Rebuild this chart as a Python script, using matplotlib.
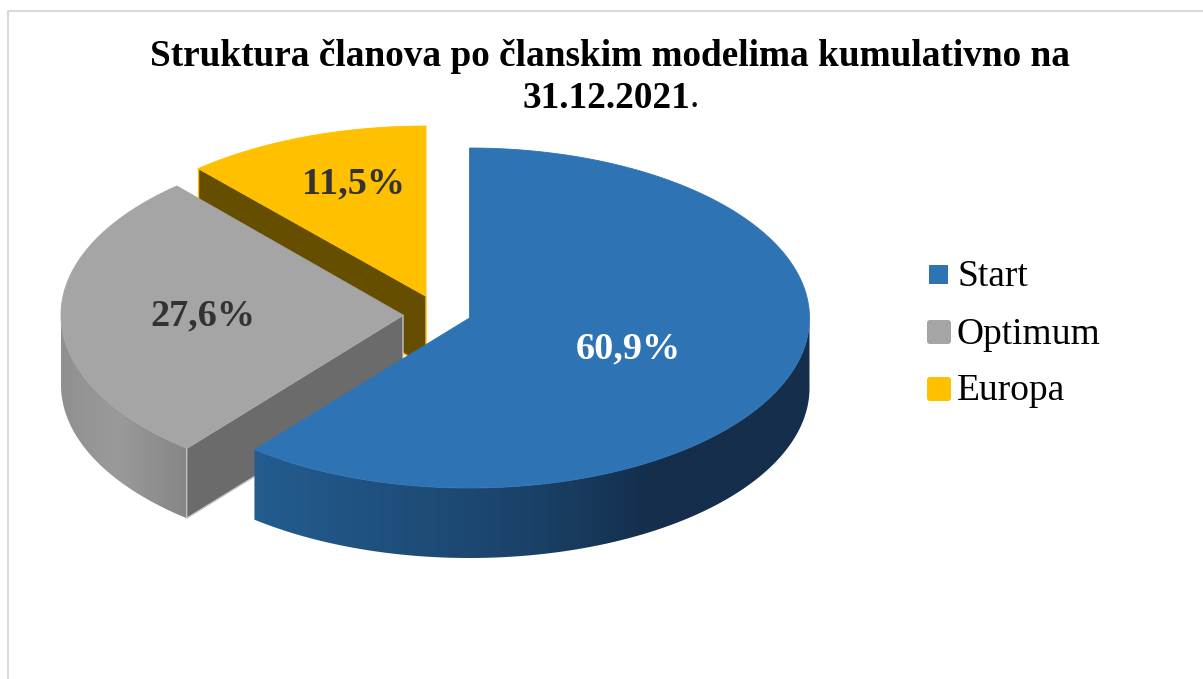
import numpy as np
import matplotlib
matplotlib.use("Agg")
import matplotlib.pyplot as plt
from matplotlib.patches import Polygon, Rectangle, FancyBboxPatch
from matplotlib.colors import LinearSegmentedColormap

# Data
categories = ["Start", "Optimum", "Europa"]
shares = [60.9, 27.6, 11.5]
value_labels = ["60,9%", "27,6%", "11,5%"]
title_line1 = "Struktura članova po članskim modelima kumulativno na"
title_line2 = "31.12.2021"

# Style and layout
top_colors = ["#2e74b5", "#a5a5a5", "#ffc000"]
cut_colors = [None, "#6b6b6b", "#654e00"]
label_colors = ["white", "#333333", "#333333"]
centers = [(469.5, 318), (403, 315), (426, 296)]
radii = [(340, 170), (342, 172), (344, 170)]
label_pos = [(628, 349), (202.5, 316), (353.5, 184)]
DEPTH = 70
SERIF = "Liberation Serif"

fig = plt.figure(figsize=(12.03, 6.79), dpi=100, facecolor="white")
ax = fig.add_axes([0, 0, 1, 1])
ax.set_xlim(0, 1203)
ax.set_ylim(679, 0)
ax.axis("off")

ax.plot([1203, 7.5, 7.5], [10.5, 10.5, 679], color="#d9d9d9", lw=1.5, zorder=1)


def arc(i, t0, t1, dy=0, n=240):
    c, (rx, ry) = centers[i], radii[i]
    t = np.radians(np.linspace(t0, t1, n))
    return np.column_stack([c[0] + rx * np.sin(t), c[1] - ry * np.cos(t) + dy])


def gradient_wall(i, t0, t1, stops, z):
    top = arc(i, t0, t1)
    bottom = arc(i, t0, t1, DEPTH)
    poly = np.vstack([top, bottom[::-1]])
    clip = Polygon(poly, closed=True, transform=ax.transData, fc="none", ec="none")
    ax.add_patch(clip)
    x0, x1 = poly[:, 0].min(), poly[:, 0].max()
    y0, y1 = poly[:, 1].min(), poly[:, 1].max()
    cmap = LinearSegmentedColormap.from_list("w", stops)
    img = ax.imshow(np.linspace(0, 1, 512).reshape(1, -1), cmap=cmap, aspect="auto",
                    extent=(x0, x1, y1, y0), zorder=z, interpolation="bilinear")
    img.set_clip_path(clip)


def cut_face(i, t, color, edge, z):
    c = centers[i]
    p = arc(i, t, t, n=1)[0]
    poly = [tuple(c), tuple(p), (p[0], p[1] + DEPTH), (c[0], c[1] + DEPTH)]
    ax.add_patch(Polygon(poly, closed=True, fc=color, ec=edge, lw=1, zorder=z))


def top_face(i, t0, t1, color, z):
    poly = np.vstack([[centers[i]], arc(i, t0, t1)])
    ax.add_patch(Polygon(poly, closed=True, fc=color, ec=color, lw=0.6, zorder=z))


edges = np.cumsum([0] + shares) / sum(shares) * 360

# Europa (back)
cut_face(2, edges[2], cut_colors[2], top_colors[2], 2)
top_face(2, edges[2], edges[3], top_colors[2], 3)

# Optimum
gradient_wall(1, edges[1], 270, [(0.0, "#909090"), (0.45, "#9a9a9a"), (1.0, "#868686")], 4)
cut_face(1, edges[1], cut_colors[1], "#c4c4c4", 5)
top_face(1, edges[1], edges[2], top_colors[1], 6)

# Start (front)
gradient_wall(0, 90, edges[1],
              [(0.0, "#245c90"), (0.5, "#1a4268"), (0.72, "#142e4c"), (1.0, "#142e4c")], 7)
top_face(0, edges[0], edges[1], top_colors[0], 8)

ax.set_xlim(0, 1203)
ax.set_ylim(679, 0)

for txt, pos, col in zip(value_labels, label_pos, label_colors):
    ax.text(pos[0], pos[1], txt, family=SERIF, weight="bold", fontsize=27.5, color=col,
            ha="center", va="center", zorder=10)

ax.text(609.5, 57, title_line1, family=SERIF, weight="bold", fontsize=26.8, color="black",
        ha="center", va="center", zorder=10)
ax.text(690, 98, title_line2, family=SERIF, weight="bold", fontsize=26.8, color="black",
        ha="right", va="center", zorder=10)
ax.text(690, 98, ".", family=SERIF, fontsize=26.8, color="black", ha="left", va="center", zorder=10)

# Legend
ax.add_patch(Rectangle((929, 265), 19, 19, fc=top_colors[0], ec="none", zorder=10))
for y, col in zip([320, 377], top_colors[1:]):
    ax.add_patch(FancyBboxPatch((929, y + 2), 20, 20, boxstyle="round,pad=2,rounding_size=3",
                                fc=col, ec="none", zorder=10))
for name, y in zip(categories, [286, 343.5, 400.5]):
    ax.text(957, y, name, family=SERIF, fontsize=27, color="black", ha="left",
            va="baseline", zorder=10)

fig.savefig("out.png", dpi=100, facecolor="white")
